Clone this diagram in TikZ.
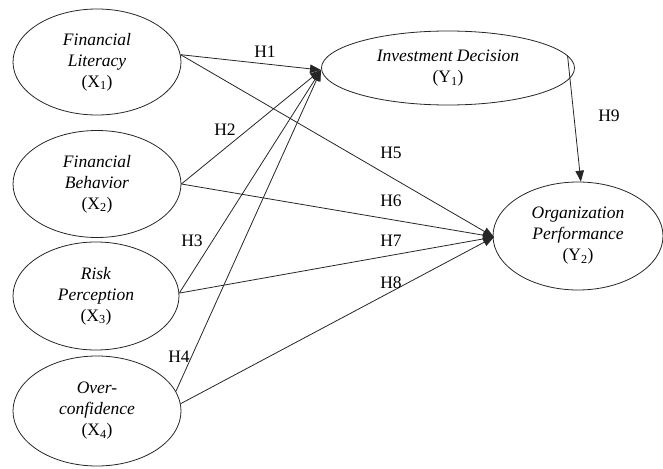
\documentclass[tikz,border=0pt]{standalone}
\usepackage{fontspec}
\setmainfont{Liberation Serif}
\usetikzlibrary{shapes.geometric,arrows.meta}
\begin{document}
\begin{tikzpicture}[x=1pt,y=-1pt,
  var/.style={draw=black!85, ellipse, inner sep=0pt, align=center,
    font=\fontsize{17.5}{21}\selectfont, line width=0.8pt},
  conn/.style={draw=black!85, line width=0.8pt, -{Triangle[length=11pt,width=8.5pt]}},
  lab/.style={font=\fontsize{17.5}{19}\selectfont, inner sep=0pt}]
\useasboundingbox (0,0) rectangle (663,468);
\node[var, minimum width=168pt, minimum height=106pt] (x1) at (97,62)
  {\textit{Financial}\\\textit{Literacy}\\(X\textsubscript{1})};
\node[var, minimum width=168pt, minimum height=107pt] (x2) at (97,184)
  {\textit{Financial}\\\textit{Behavior}\\(X\textsubscript{2})};
\node[var, minimum width=166pt, minimum height=108pt] (x3) at (96,296)
  {\textit{Risk}\\\textit{Perception}\\(X\textsubscript{3})};
\node[var, minimum width=168pt, minimum height=110pt] (x4) at (97,411)
  {\textit{Over-}\\\textit{confidence}\\(X\textsubscript{4})};
\node[var, minimum width=253pt, minimum height=74pt] (y1) at (448,68)
  {\textit{Investment Decision}\\(Y\textsubscript{1})};
\node[var, minimum width=170pt, minimum height=108pt] (y2) at (578,236)
  {\textit{Organization}\\\textit{Performance}\\(Y\textsubscript{2})};

\coordinate (t1) at (321,70);
\coordinate (t2) at (494,237);

\draw[conn] (x1.5) -- (t1);
\draw[conn] (x2.east) -- (t1);
\draw[conn] (x3.2) -- (t1);
\draw[conn] (x4.14) -- (t1);
\draw[conn] (x1.5) -- (t2);
\draw[conn] (x2.east) -- (t2);
\draw[conn] (x3.2) -- (t2);
\draw[conn] (x4.5) -- (t2);
\draw[conn] (y1.6) -- (y2.87);

\node[lab] (h1) at (265,52) {H1};
\node[lab] (h2) at (225,130) {H2};
\node[lab] (h3) at (192,241) {H3};
\node[lab] (h4) at (179,357) {H4};
\node[lab] (h5) at (391,153) {H5};
\node[lab] (h6) at (391,201) {H6};
\node[lab] (h7) at (391,241) {H7};
\node[lab] (h8) at (391,283) {H8};
\node[lab] (h9) at (609,116) {H9};
\end{tikzpicture}
\end{document}
